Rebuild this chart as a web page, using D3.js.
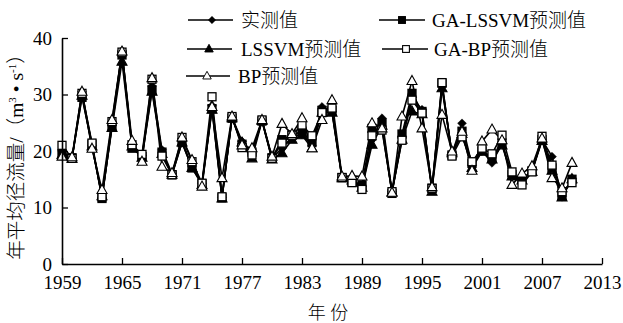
<!DOCTYPE html>
<html>
<head>
<meta charset="utf-8">
<script src="https://cdn.jsdelivr.net/npm/d3@7"></script>
<style>
  body { margin: 0; background: #fff; }
  text { font-family: "Liberation Serif", "Noto Sans CJK SC", serif; fill: #000; }
  .cjk { font-weight: 300; }
</style>
</head>
<body>
<div id="chart"></div>
<script>
const W = 623, H = 323;

const years = d3.range(1959, 2011);
const xTicks = [1959, 1965, 1971, 1977, 1983, 1989, 1995, 2001, 2007, 2013];
const yTicks = [0, 10, 20, 30, 40];

// 实测值
const actual = [20.0, 18.7, 30.5, 21.0, 11.8, 24.5, 37.7, 21.0, 19.2, 31.5,
  20.2, 16.0, 21.8, 17.2, 14.3, 28.0, 11.8, 26.0, 21.7, 19.5,
  25.5, 18.7, 20.5, 22.5, 23.0, 21.0, 27.8, 27.0, 15.3, 15.0,
  13.7, 22.0, 25.8, 12.8, 22.5, 29.5, 27.3, 13.2, 31.5, 19.5,
  24.9, 17.5, 20.0, 17.9, 21.3, 15.5, 15.0, 16.5, 22.0, 19.0,
  11.9, 15.2];
// GA-LSSVM预测值
const gaLssvm = [19.5, 18.8, 29.5, 21.2, 11.6, 24.5, 37.0, 20.5, 19.0, 30.8,
  19.8, 15.8, 21.5, 17.0, 14.2, 27.5, 11.7, 25.8, 21.2, 19.8,
  25.3, 18.8, 22.0, 22.8, 23.5, 21.5, 27.2, 27.2, 15.3, 14.5,
  14.0, 24.0, 25.0, 12.5, 23.0, 30.2, 27.0, 13.4, 32.0, 19.3,
  23.5, 17.8, 20.0, 18.8, 21.4, 15.8, 15.0, 16.5, 22.0, 17.0,
  12.0, 15.0];
// LSSVM预测值
const lssvm = [19.3, 18.6, 29.8, 20.8, 12.0, 24.1, 35.8, 20.8, 18.8, 30.5,
  19.5, 15.8, 21.5, 17.0, 14.0, 27.3, 11.6, 25.8, 21.5, 18.7,
  25.3, 18.5, 19.6, 22.0, 22.8, 20.5, 26.8, 26.8, 15.2, 14.8,
  13.5, 21.1, 24.5, 12.7, 22.0, 27.0, 26.5, 12.8, 31.1, 19.6,
  23.0, 17.0, 19.9, 18.5, 21.0, 15.5, 14.8, 16.3, 21.8, 16.5,
  11.8, 15.0];
// GA-BP预测值
const gaBp = [21.0, 18.7, 30.2, 21.4, 11.9, 25.2, 37.5, 21.1, 19.4, 32.7,
  19.1, 15.8, 22.4, 18.1, 14.3, 29.6, 11.9, 26.1, 20.6, 19.3,
  25.5, 18.7, 21.4, 22.8, 24.6, 22.7, 26.8, 27.6, 15.3, 14.4,
  13.2, 22.7, 23.7, 12.8, 21.9, 29.0, 26.7, 13.4, 32.1, 19.1,
  22.5, 18.1, 20.5, 19.5, 22.8, 16.3, 14.0, 16.3, 22.6, 17.5,
  12.8, 14.4];
// BP预测值
const bp = [19.0, 18.9, 30.5, 20.4, 13.1, 25.5, 37.6, 21.8, 18.1, 32.9,
  17.2, 16.1, 22.4, 18.4, 13.7, 27.8, 15.2, 26.1, 21.0, 20.5,
  25.5, 19.0, 24.8, 23.0, 25.8, 20.5, 25.5, 29.0, 15.5, 15.6,
  15.5, 24.9, 24.0, 12.6, 26.1, 32.4, 24.0, 13.6, 26.4, 19.9,
  23.4, 16.5, 21.7, 23.8, 21.9, 14.0, 16.0, 17.3, 22.2, 15.2,
  13.4, 17.9];

const seriesNames = ["实测值", "GA-LSSVM预测值", "LSSVM预测值", "GA-BP预测值", "BP预测值"];
const seriesValues = [actual, gaLssvm, lssvm, gaBp, bp];
const markerKinds = ["diamond", "fsquare", "ftriangle", "osquare", "otriangle"];

const x = d3.scaleLinear().domain([1959, 2013]).range([62, 602]);
const y = d3.scaleLinear().domain([0, 40]).range([264, 38]);

const svg = d3.select("#chart").append("svg")
  .attr("width", W).attr("height", H);

function marker(g, kind) {
  if (kind === "diamond") {
    g.append("path").attr("d", d3.symbol(d3.symbolDiamond2, 50)())
      .attr("fill", "#000").attr("stroke", "#000").attr("stroke-width", 0.5);
  } else if (kind === "fsquare" || kind === "osquare") {
    g.append("rect").attr("x", -4).attr("y", -4).attr("width", 8).attr("height", 8)
      .attr("fill", kind === "fsquare" ? "#000" : "#fff")
      .attr("stroke", "#000").attr("stroke-width", 1.3);
  } else {
    g.append("path").attr("d", "M0,-5.5L5,3.5L-5,3.5Z")
      .attr("fill", kind === "ftriangle" ? "#000" : "#fff")
      .attr("stroke", "#000").attr("stroke-width", 1.1);
  }
}

const line = d3.line().x((d, i) => x(years[i])).y(d => y(d));

// lines first, then markers on top
seriesValues.forEach(vals => {
  svg.append("path").datum(vals)
    .attr("d", line)
    .attr("fill", "none").attr("stroke", "#000").attr("stroke-width", 1.6);
});
seriesValues.forEach((vals, s) => {
  svg.append("g").selectAll("g")
    .data(vals)
    .enter().append("g")
    .attr("transform", (d, i) => `translate(${x(years[i])},${y(d)})`)
    .each(function () { marker(d3.select(this), markerKinds[s]); });
});

// axes
const xAxis = d3.axisBottom(x).tickValues(xTicks).tickFormat(d3.format("d"))
  .tickSizeInner(-6).tickSizeOuter(0).tickPadding(12);
const gx = svg.append("g").attr("transform", `translate(0,${y(0)})`).call(xAxis);
gx.select(".domain").attr("stroke-width", 1.6);
gx.selectAll(".tick line").attr("stroke-width", 1.3);
gx.selectAll("text").attr("font-size", 19).attr("font-family", "Liberation Serif");

const yAxis = d3.axisLeft(y).tickValues(yTicks)
  .tickSizeInner(-6).tickSizeOuter(0).tickPadding(10);
const gy = svg.append("g").attr("transform", `translate(${x(1959)},0)`).call(yAxis);
gy.select(".domain").attr("stroke-width", 1.6);
gy.selectAll(".tick line").attr("stroke-width", 1.3);
gy.selectAll("text").attr("font-size", 19).attr("font-family", "Liberation Serif");

// axis titles
svg.append("text").attr("class", "cjk").attr("x", 328).attr("y", 319)
  .attr("text-anchor", "middle").attr("font-size", 18).text("年  份");

const yt = svg.append("text").attr("class", "cjk")
  .attr("transform", "translate(23,152) rotate(-90)")
  .attr("text-anchor", "middle").attr("font-size", 19.5);
yt.append("tspan").text("年平均径流量/（m");
yt.append("tspan").attr("font-size", 11).attr("dy", -7).text("3");
yt.append("tspan").attr("dy", 7).text(" • s");
yt.append("tspan").attr("font-size", 11).attr("dy", -7).text("-1");
yt.append("tspan").attr("dy", 7).text("）");

// legend
const legendPos = [
  { x1: 188, x2: 233, mx: 212, y: 20, tx: 241 },
  { x1: 379, x2: 425, mx: 402, y: 20, tx: 432 },
  { x1: 187, x2: 232, mx: 209, y: 49, tx: 241 },
  { x1: 382, x2: 428, mx: 406, y: 49, tx: 434 },
  { x1: 186, x2: 230, mx: 207, y: 76, tx: 238 }
];
seriesNames.forEach((name, i) => {
  const p = legendPos[i];
  const g = svg.append("g");
  g.append("line").attr("x1", p.x1).attr("x2", p.x2).attr("y1", p.y).attr("y2", p.y)
    .attr("stroke", "#000").attr("stroke-width", 1.6);
  const m = g.append("g").attr("transform", `translate(${p.mx},${p.y}) scale(0.85)`);
  marker(m, markerKinds[i]);
  g.append("text").attr("class", "cjk").attr("x", p.tx).attr("y", p.y + 7)
    .attr("font-size", 19).text(name);
});
</script>
</body>
</html>
